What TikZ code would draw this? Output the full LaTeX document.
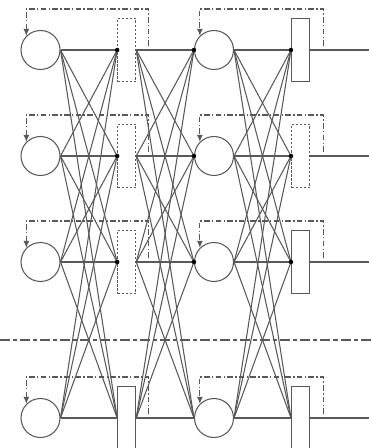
\documentclass[tikz,border=0pt]{standalone}
\usetikzlibrary{arrows.meta,calc}

\begin{document}
\begin{tikzpicture}[
    x=0.02cm, y=-0.02cm,
    color=black!65,
    line width=0.6pt,
    neuron/.style={circle, draw, minimum size=0.78cm, inner sep=0pt},
    delay/.style={rectangle, draw, minimum width=0.36cm, minimum height=1.27cm, inner sep=0pt},
    hidden/.style={delay, dash pattern=on 1.4pt off 0.9pt},
    junction/.style={circle, fill=black, inner sep=0pt, minimum size=0.09cm},
    feedback/.style={dash pattern=on 3.2pt off 1.3pt on 0.8pt off 1.3pt, -{Latex[length=1.4mm,width=1.2mm]}},
    divider/.style={dash pattern=on 5.7pt off 1.7pt on 2.3pt off 1.7pt}
]
\useasboundingbox (0,0) rectangle (371,448);

% First layer neurons
\node[neuron] (u1) at (40.5,50) {};
\node[neuron] (u2) at (40.5,156) {};
\node[neuron] (u3) at (40.5,262) {};
\node[neuron] (u4) at (40.5,418) {};

% First layer delays
\node[hidden] (p1) at (126.7,50) {};
\node[hidden] (p2) at (126.7,156) {};
\node[hidden] (p3) at (126.7,262) {};
\node[delay] (p4) at (126.7,418) {};

% Second layer neurons
\node[neuron] (v1) at (214,50) {};
\node[neuron] (v2) at (214,156) {};
\node[neuron] (v3) at (214,262) {};
\node[neuron] (v4) at (214,418) {};

% Second layer delays
\node[delay] (q1) at (300.5,50) {};
\node[hidden] (q2) at (300.5,156) {};
\node[delay] (q3) at (300.5,262) {};
\node[delay] (q4) at (300.5,418) {};

% Outputs
\coordinate (o1) at (369,50);
\coordinate (o2) at (369,156);
\coordinate (o3) at (369,262);
\coordinate (o4) at (369,418);

% Full connections
\foreach \i in {1,...,4} {
  \foreach \j in {1,...,4} {
    \draw (u\i.east) -- (p\j.west);
    \draw (p\i.east) -- (v\j.west);
    \draw (v\i.east) -- (q\j.west);
  }
  \draw (q\i.east) -- (o\i);
}

% Junction dots
\foreach \i in {1,2,3} {
  \node[junction] (dp\i) at (p\i.west) {};
  \node[junction] (dv\i) at (v\i.west) {};
  \node[junction] (dq\i) at (q\i.west) {};
}

% Feedback loops
\foreach \i in {1,...,4} {
  \draw[feedback] ($(p\i.east)+(12.3,-4)$) -- ++(0,-37) -| (u\i.135);
  \draw[feedback] ($(q\i.east)+(13.4,-4)$) -- ++(0,-37) -| (v\i.135);
}

% Divider
\coordinate (gapL) at (0,340);
\coordinate (gapR) at (371,340);
\draw[divider] (gapL) -- (gapR);

\end{tikzpicture}
\end{document}
